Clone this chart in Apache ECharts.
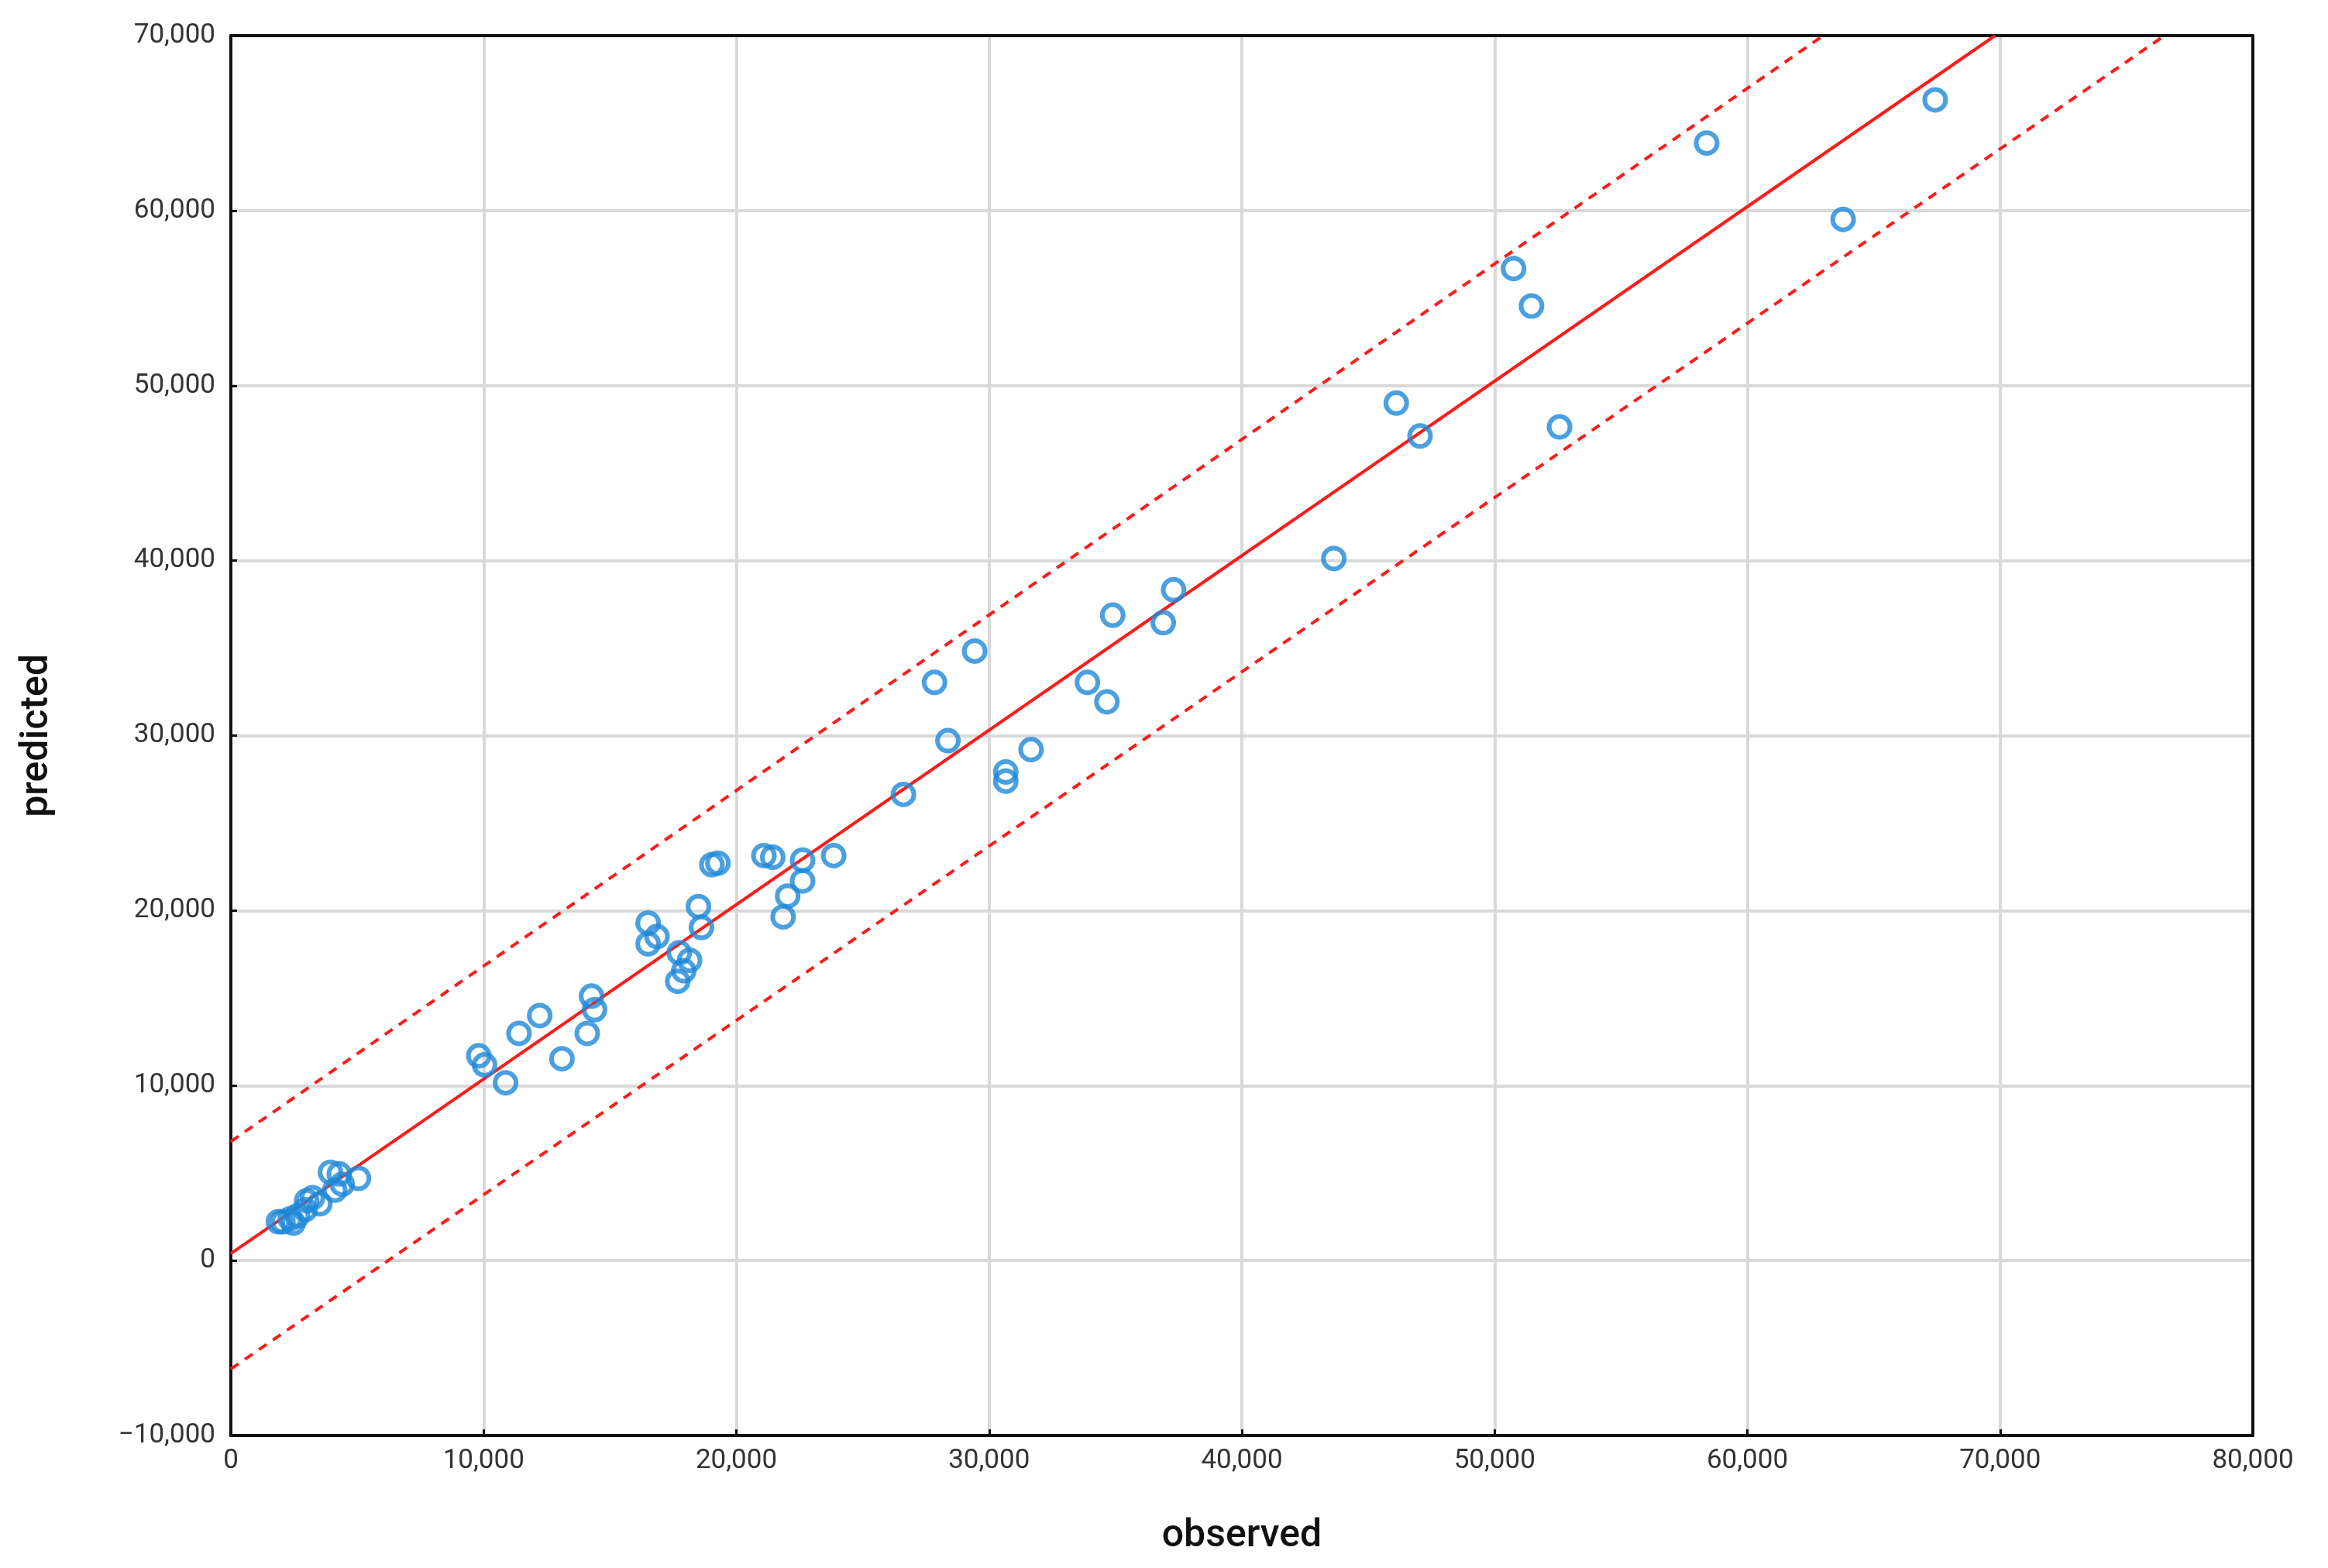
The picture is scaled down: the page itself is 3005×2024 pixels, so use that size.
<!DOCTYPE html>
<html><head><meta charset="utf-8">
<script src="https://cdn.jsdelivr.net/npm/echarts@6/dist/echarts.min.js"></script>
<style>html,body{margin:0;background:#fff}#c{width:3005px;height:2024px}</style>
</head><body><div id="c"></div>
<script>
const observed = [67430,58390,63790,50750,51460,46110,47050,52570,43640,37300,34890,36890,29430,27840,33890,34660,28370,31660,30660,30660,26610,21090,21440,23850,22620,19030,19270,22620,22030,18500,21850,18620,16510,16510,16860,17740,18150,17920,17680,12220,14270,14390,11400,14100,13100,9810,10040,10870,3940,4290,5050,4410,4110,3230,3000,3520,2940,2640,2350,2060,1880,2470];
const predicted = [66330,63860,59500,56690,54550,49000,47120,47640,40120,38330,36880,36450,34830,33040,33040,31930,29710,29200,27920,27400,26640,23140,23050,23140,22880,22620,22710,21690,20830,20230,19640,19040,19290,18100,18520,17590,17160,16560,15960,14000,15110,14340,12980,12980,11530,11700,11180,10160,5040,4950,4700,4360,4020,3590,3420,3250,2910,2560,2390,2220,2220,2140];
const fitLine = [[0,400],[69800,70000]];
const upperBand = [[0,6800],[63000,70000]];
const lowerBand = [[0,-6200],[76500,70000]];
const xTicks = {min:0,max:80000,interval:10000};
const yTicks = {min:-10000,max:70000,interval:10000};

const fmt = v => (v<0 ? '\u2212' : '') + Math.abs(v).toLocaleString('en-US');
const font = 'Roboto';
const chart = echarts.init(document.getElementById('c'));
const axisCommon = {
  axisLine:{show:true,onZero:false,lineStyle:{color:'#111',width:4}},
  axisTick:{show:true,inside:true,length:8,lineStyle:{color:'#111',width:3}},
  splitLine:{show:true,lineStyle:{color:'#d9d9d9',width:4}},
  axisLabel:{color:'#333',fontSize:35,fontFamily:font,formatter:fmt},
  nameTextStyle:{color:'#111',fontSize:50,fontFamily:font,fontWeight:500}
};
const frame = {type:'value',axisLine:{show:true,onZero:false,lineStyle:{color:'#111',width:4}},
  axisTick:{show:false},axisLabel:{show:false},splitLine:{show:false}};
chart.setOption({
  animation:false,
  backgroundColor:'#fff',
  grid:{left:298,right:97,top:46,bottom:171},
  xAxis:[Object.assign({type:'value',name:'observed',nameLocation:'middle',nameGap:105},xTicks,axisCommon,
    {axisLabel:Object.assign({},axisCommon.axisLabel,{margin:16})}),
    Object.assign({position:'top'},xTicks,frame)],
  yAxis:[Object.assign({type:'value',name:'predicted',nameLocation:'middle',nameGap:225},yTicks,axisCommon,
    {axisLabel:Object.assign({},axisCommon.axisLabel,{margin:20})}),
    Object.assign({position:'right'},yTicks,frame)],
  series:[
    {type:'line',data:fitLine,symbol:'none',lineStyle:{color:'#ff1a1a',width:4},z:3},
    {type:'line',data:upperBand,symbol:'none',lineStyle:{color:'#ff1a1a',width:4,type:[12,10]},z:3},
    {type:'line',data:lowerBand,symbol:'none',lineStyle:{color:'#ff1a1a',width:4,type:[12,10]},z:3},
    {type:'scatter',data:observed.map((x,i)=>[x,predicted[i]]),symbol:'circle',symbolSize:27,
     itemStyle:{color:'rgba(255,255,255,0)',borderColor:'#1e88d8',borderWidth:6},z:4}
  ]
});
</script></body></html>
